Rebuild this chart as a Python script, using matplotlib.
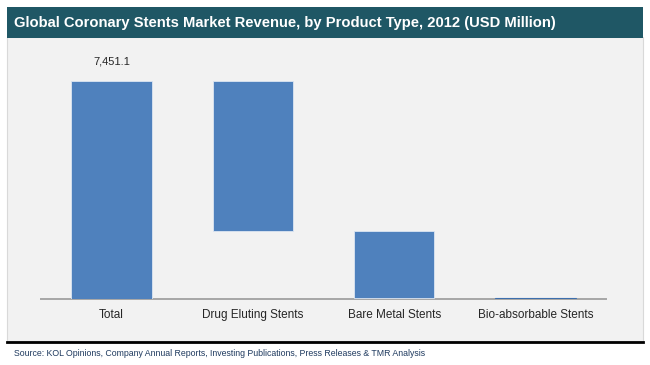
import matplotlib.pyplot as plt
from matplotlib.patches import Rectangle

plt.rcParams['font.family'] = ['Liberation Sans', 'DejaVu Sans']

categories = ['Total', 'Drug Eluting Stents', 'Bare Metal Stents', 'Bio-absorbable Stents']
total = 7451.1
drug_eluting = 5130.0
bare_metal = 2270.0
bio_absorbable = 51.1
values = [total, drug_eluting, bare_metal, bio_absorbable]

# waterfall: each segment drops from the previous level
bottoms = [0, total - drug_eluting, total - drug_eluting - bare_metal, 0]

fig = plt.figure(figsize=(6.5, 3.65), dpi=100)
fig.patch.set_facecolor('white')

# grey panel behind the chart
panel = Rectangle((7 / 650, 1 - 341 / 365), 636 / 650, 304 / 365,
                  transform=fig.transFigure, facecolor='#F2F2F2',
                  edgecolor='#D9D9D9', lw=0.8, zorder=-5)
fig.patches.append(panel)

# title bar
bar = Rectangle((7 / 650, 1 - 38 / 365), 636 / 650, 31 / 365,
                transform=fig.transFigure, facecolor='#1F5765',
                edgecolor='none', zorder=-4)
fig.patches.append(bar)
fig.text(14 / 650, 1 - 23 / 365,
         'Global Coronary Stents Market Revenue, by Product Type, 2012 (USD Million)',
         color='white', fontsize=10.6, fontweight='bold', va='center', ha='left')

# thick line under panel
fig.add_artist(plt.Line2D([7 / 650, 643 / 650], [1 - 342 / 365, 1 - 342 / 365],
                          transform=fig.transFigure, color='black', lw=2))
fig.text(14 / 650, 1 - 353 / 365,
         'Source: KOL Opinions, Company Annual Reports, Investing Publications, Press Releases & TMR Analysis',
         color='#1F3A5F', fontsize=6.3, va='center', ha='left')

ax = fig.add_axes([41 / 650, 1 - 299 / 365, 565 / 650, 239 / 365])
ax.set_facecolor('none')
x = range(len(categories))
ax.bar(x, values, bottom=bottoms, width=0.57, color='#4F81BD',
       edgecolor='#DCE6F2', linewidth=0.6, zorder=3)
ax.bar([3], [bio_absorbable], bottom=[0], width=0.57, color='#4F81BD',
       edgecolor='#3D6FAD', linewidth=0.8, zorder=4)
ax.set_xlim(-0.5, len(categories) - 0.5)
ax.set_ylim(0, 239 * total / 218.3)

ax.text(0, total + 480, '7,451.1', ha='center', va='bottom',
        fontsize=8, color='#262626')

ax.set_xticks(list(x))
ax.set_xticklabels(categories, fontsize=8.5, color='#262626')
ax.tick_params(axis='x', length=0, pad=7)
ax.set_yticks([])
for s in ['top', 'right', 'left']:
    ax.spines[s].set_visible(False)
ax.spines['bottom'].set_color('#A6A6A6')
ax.spines['bottom'].set_linewidth(1.4)
ax.spines['bottom'].set_zorder(1)

fig.savefig('out.png', dpi=100)
